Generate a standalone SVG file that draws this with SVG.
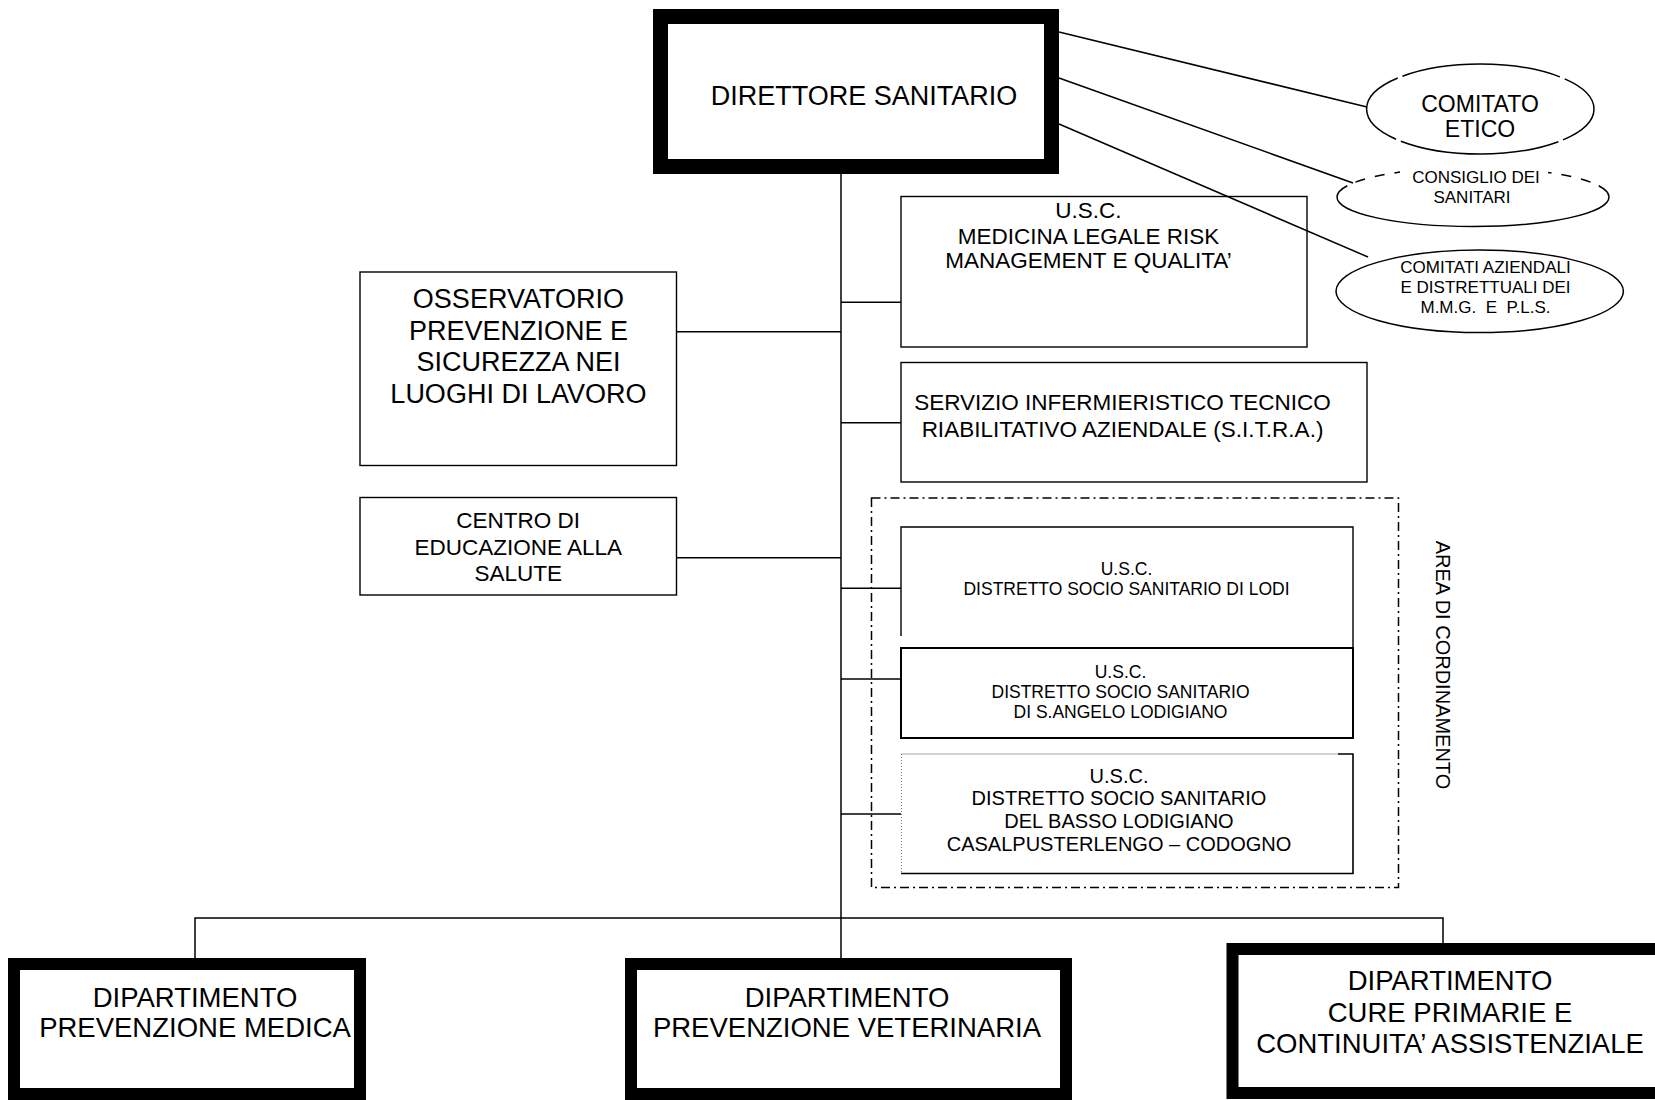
<svg xmlns="http://www.w3.org/2000/svg" width="1655" height="1100" viewBox="0 0 1655 1100">
  <style>
    .t { font-family: "Liberation Sans", Arial, Helvetica, sans-serif; fill: #000; text-anchor: middle; }
    .box { fill: #fff; stroke: #000; stroke-width: 1.4; }
    .heavy { fill: #fff; stroke: #000; }
    .oval { fill: #fff; stroke: #000; stroke-width: 1.5; }
    .conn line, .conn polyline { stroke: #000; stroke-width: 1.5; fill: none; }
    .area { fill: none; stroke: #000; stroke-width: 1.5; stroke-dasharray: 9 4 2 4; }
  </style>

  <rect width="1655" height="1100" fill="#fff"/>

  <!-- Top management -->
  <g id="direttore-sanitario">
    <rect class="heavy" x="660.5" y="16.5" width="391" height="150" stroke-width="15"/>
    <text class="t" x="864" y="105" font-size="27">DIRETTORE SANITARIO</text>
  </g>

  <!-- Committees -->
  <g id="comitato-etico">
    <ellipse class="oval" cx="1480.3" cy="109" rx="113.7" ry="45" stroke-dasharray="91 5 160 5" stroke-dashoffset="44.8"/>
    <text class="t" x="1480" y="111.7" font-size="23">COMITATO</text>
    <text class="t" x="1480" y="136.7" font-size="23">ETICO</text>
  </g>

  <g id="consiglio-sanitari">
    <path d="M1337,197 A136,29.5 0 0 0 1609,197" fill="#fff" stroke="#000" stroke-width="1.5"/>
    <path d="M1337,197 A136,29.5 0 0 1 1400,172.1" fill="none" stroke="#000" stroke-width="1.5" stroke-dasharray="16 9 10 10 10 10"/>
    <path d="M1609,197 A136,29.5 0 0 0 1548,172.4" fill="none" stroke="#000" stroke-width="1.5" stroke-dasharray="16 9 10 10 10 10"/>
    <text class="t" x="1476" y="182.7" font-size="17">CONSIGLIO DEI</text>
    <text class="t" x="1472" y="203" font-size="17">SANITARI</text>
  </g>

  <g id="comitati-aziendali">
    <ellipse class="oval" cx="1479.7" cy="291.3" rx="143.7" ry="41.3"/>
    <text class="t" x="1485.5" y="272.7" font-size="17">COMITATI AZIENDALI</text>
    <text class="t" x="1485.5" y="292.7" font-size="17">E DISTRETTUALI DEI</text>
    <text class="t" x="1485.5" y="312.7" font-size="17" xml:space="preserve">M.M.G.  E  P.L.S.</text>
  </g>

  <!-- Staff units -->
  <g id="usc-medicina-legale">
    <rect class="box" x="901" y="196.5" width="406" height="150.5"/>
    <text class="t" x="1088.5" y="218" font-size="22.5">U.S.C.</text>
    <text class="t" x="1088.5" y="244" font-size="22.5">MEDICINA LEGALE RISK</text>
    <text class="t" x="1088.5" y="268" font-size="22.5">MANAGEMENT E QUALITA’</text>
  </g>

  <g id="sitra">
    <rect class="box" x="901" y="362.5" width="466" height="119.5"/>
    <text class="t" x="1122.5" y="410" font-size="22.5">SERVIZIO INFERMIERISTICO TECNICO</text>
    <text class="t" x="1122.5" y="437" font-size="22.5">RIABILITATIVO AZIENDALE (S.I.T.R.A.)</text>
  </g>

  <g id="osservatorio">
    <rect class="box" x="360" y="272" width="316.5" height="193.5"/>
    <text class="t" x="518.4" y="307.7" font-size="27">OSSERVATORIO</text>
    <text class="t" x="518.4" y="340" font-size="27">PREVENZIONE E</text>
    <text class="t" x="518.4" y="371" font-size="27">SICUREZZA NEI</text>
    <text class="t" x="518.4" y="403.3" font-size="27">LUOGHI DI LAVORO</text>
  </g>

  <g id="centro-educazione">
    <rect class="box" x="360" y="497.5" width="316.5" height="97.5"/>
    <text class="t" x="518.2" y="528.3" font-size="22.5">CENTRO DI</text>
    <text class="t" x="518.2" y="555" font-size="22.5">EDUCAZIONE ALLA</text>
    <text class="t" x="518.2" y="580.7" font-size="22.5">SALUTE</text>
  </g>

  <!-- Coordination area with the three districts -->
  <g id="area-cordinamento">
    <rect class="area" x="871.5" y="498" width="527" height="389.5"/>
    <text class="t" transform="translate(1436,665) rotate(90)" font-size="20">AREA DI CORDINAMENTO</text>
  </g>

  <g id="distretto-lodi">
    <rect x="901" y="527" width="452" height="121" fill="#fff"/>
    <polyline points="901,636 901,527 1353,527 1353,648" fill="none" stroke="#000" stroke-width="1.4"/>
    <text class="t" x="1126.5" y="575" font-size="17.5">U.S.C.</text>
    <text class="t" x="1126.5" y="595" font-size="17.5">DISTRETTO SOCIO SANITARIO DI LODI</text>
  </g>

  <g id="distretto-sangelo">
    <rect x="901" y="648" width="452" height="90" fill="#fff" stroke="#000" stroke-width="2"/>
    <text class="t" x="1120.5" y="678" font-size="17.5">U.S.C.</text>
    <text class="t" x="1120.5" y="698" font-size="17.5">DISTRETTO SOCIO SANITARIO</text>
    <text class="t" x="1120.5" y="718" font-size="17.5">DI S.ANGELO LODIGIANO</text>
  </g>

  <g id="distretto-basso-lodigiano">
    <rect x="901" y="754" width="452" height="119.5" fill="#fff"/>
    <line x1="901" y1="754" x2="1338" y2="754" stroke="#aaa" stroke-width="1.2"/>
    <line x1="901.5" y1="754" x2="901.5" y2="873.5" stroke="#777" stroke-width="1" stroke-dasharray="1 2"/>
    <polyline points="1338,754 1353,754 1353,873.5 901,873.5" fill="none" stroke="#000" stroke-width="1.6"/>
    <text class="t" x="1119" y="783" font-size="20">U.S.C.</text>
    <text class="t" x="1119" y="805" font-size="20">DISTRETTO SOCIO SANITARIO</text>
    <text class="t" x="1119" y="828" font-size="20">DEL BASSO LODIGIANO</text>
    <text class="t" x="1119" y="851" font-size="20">CASALPUSTERLENGO – CODOGNO</text>
  </g>

  <!-- Departments -->
  <g id="dip-prevenzione-medica">
    <rect class="heavy" x="14" y="964" width="346" height="130" stroke-width="12"/>
    <text class="t" x="195" y="1006.5" font-size="27.5">DIPARTIMENTO</text>
    <text class="t" x="195" y="1037" font-size="27.5">PREVENZIONE MEDICA</text>
  </g>

  <g id="dip-prevenzione-veterinaria">
    <rect class="heavy" x="631" y="964" width="435" height="130" stroke-width="12"/>
    <text class="t" x="847" y="1006.5" font-size="27.5">DIPARTIMENTO</text>
    <text class="t" x="847" y="1037" font-size="27.5">PREVENZIONE VETERINARIA</text>
  </g>

  <g id="dip-cure-primarie">
    <rect class="heavy" x="1232.5" y="949" width="500" height="144" stroke-width="12"/>
    <text class="t" x="1450" y="990" font-size="27.5">DIPARTIMENTO</text>
    <text class="t" x="1450" y="1021.7" font-size="27.5">CURE PRIMARIE E</text>
    <text class="t" x="1450" y="1053" font-size="27.5">CONTINUITA’ ASSISTENZIALE</text>
  </g>

  <!-- Connectors -->
  <g id="connectors" class="conn">
    <line x1="841" y1="174" x2="841" y2="958"/>
    <line x1="1059" y1="32" x2="1367" y2="107"/>
    <line x1="1059" y1="78" x2="1353" y2="183"/>
    <line x1="1059" y1="124" x2="1368" y2="257"/>
    <line x1="841" y1="302.3" x2="901" y2="302.3"/>
    <line x1="676.5" y1="331.7" x2="841" y2="331.7"/>
    <line x1="841" y1="422.7" x2="901" y2="422.7"/>
    <line x1="676.5" y1="557.7" x2="841" y2="557.7"/>
    <line x1="841" y1="588.3" x2="901" y2="588.3"/>
    <line x1="841" y1="679" x2="901" y2="679"/>
    <line x1="841" y1="814" x2="901" y2="814"/>
    <polyline points="195,958 195,918 1443,918 1443,943"/>
  </g>
</svg>
